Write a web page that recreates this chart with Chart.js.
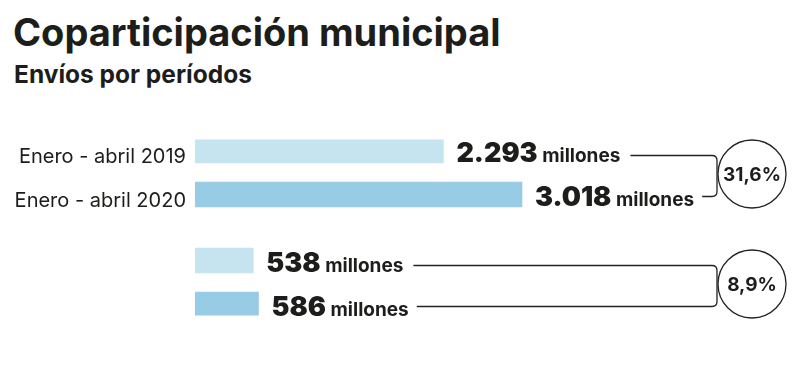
<!DOCTYPE html>
<html>
<head>
<meta charset="utf-8">
<script src="https://cdn.jsdelivr.net/npm/chart.js@4/dist/chart.umd.min.js"></script>
<style>
  html, body { margin: 0; padding: 0; background: #fff; }
  #wrap { position: relative; width: 793px; height: 366px; overflow: hidden; }
  h1, h2 { position: absolute; margin: 0; color: #1d1d1b; font-family: Inter, sans-serif; white-space: nowrap; line-height: 1; }
  h1 { left: 13px; top: 13px; font-size: 38px; font-weight: 700; }
  h2 { left: 14px; top: 62px; font-size: 24.5px; font-weight: 700; }
  canvas { position: absolute; left: 0; top: 0; }
</style>
</head>
<body>
<div id="wrap">
  <h1>Coparticipación municipal</h1>
  <h2>Envíos por períodos</h2>
  <canvas id="chart" width="793" height="366"></canvas>
</div>
<script>
// Data (millones de pesos)
const periods = ['Enero - abril 2019', 'Enero - abril 2020', 'Abril 2019', 'Abril 2020'];
const values = [2293, 3018, 538, 586];
const valueLabels = ['2.293', '3.018', '538', '586'];
const changes = ['31,6%', '8,9%'];

// Style
const colors = {
  text: '#1d1d1b',
  light: '#c6e3f0',
  dark: '#98cce4',
  line: '#222222'
};
const FONT = 'Inter, sans-serif';

// Build category slots: rows of a pair sit two slots apart, pairs three slots apart
const labels = [];
const data = [];
const barColors = [];
periods.forEach((p, i) => {
  if (i > 0) {
    const gap = i % 2 === 0 ? 2 : 1;
    for (let g = 0; g < gap; g++) { labels.push(''); data.push(null); barColors.push('transparent'); }
  }
  labels.push(p);
  data.push(values[i]);
  barColors.push(i % 2 === 0 ? colors.light : colors.dark);
});

// Value labels, brackets and percentage circles
const annotations = {
  id: 'annotations',
  afterDatasetsDraw(chart) {
    const { ctx } = chart;
    const meta = chart.getDatasetMeta(0);
    const bars = meta.data.filter((b, i) => data[i] !== null);
    const ends = [];

    ctx.save();
    ctx.fillStyle = colors.text;
    ctx.textBaseline = 'alphabetic';
    ctx.textAlign = 'left';
    bars.forEach((bar, i) => {
      const x = bar.x + 13;
      const y = bar.y + 11;
      ctx.font = `900 27px ${FONT}`;
      ctx.fillText(valueLabels[i], x, y);
      const w1 = ctx.measureText(valueLabels[i]).width;
      ctx.font = `700 19px ${FONT}`;
      ctx.fillText(' millones', x + w1, y);
      const w2 = ctx.measureText(' millones').width;
      ends.push(x + w1 + w2);
    });

    const cx = 752;
    const r = 34;
    const vx = cx - r - 1;
    const cr = 5;
    ctx.strokeStyle = colors.line;
    ctx.lineWidth = 1.3;
    changes.forEach((label, g) => {
      const top = bars[g * 2];
      const bottom = bars[g * 2 + 1];
      const y1 = top.y + 5;
      const y2 = bottom.y + 2;
      ctx.beginPath();
      ctx.moveTo(ends[g * 2] + 10, y1);
      ctx.lineTo(vx - cr, y1);
      ctx.quadraticCurveTo(vx, y1, vx, y1 + cr);
      ctx.lineTo(vx, y2 - cr);
      ctx.quadraticCurveTo(vx, y2, vx - cr, y2);
      ctx.lineTo(ends[g * 2 + 1] + 8, y2);
      ctx.stroke();

      const cy = (y1 + y2) / 2 - 2;
      ctx.beginPath();
      ctx.arc(cx, cy, r, 0, Math.PI * 2);
      ctx.stroke();

      ctx.font = `700 19px ${FONT}`;
      ctx.textAlign = 'center';
      ctx.textBaseline = 'middle';
      ctx.fillText(label, cx, cy + 1);
      ctx.textAlign = 'left';
      ctx.textBaseline = 'alphabetic';
    });
    ctx.restore();
  }
};

new Chart(document.getElementById('chart'), {
  type: 'bar',
  data: {
    labels,
    datasets: [{
      data,
      backgroundColor: barColors,
      borderWidth: 0,
      barThickness: 25
    }]
  },
  options: {
    indexAxis: 'y',
    responsive: false,
    animation: false,
    layout: { padding: { top: 139.5, bottom: 50.5, left: 0, right: 13 } },
    scales: {
      x: {
        min: 0,
        max: 5400,
        display: false
      },
      y: {
        grid: { display: false, drawTicks: false },
        border: { display: false },
        afterFit: (scale) => { scale.width = 195; },
        ticks: {
          padding: 9,
          labelOffset: 6,
          color: colors.text,
          font: { family: FONT, size: 20 }
        }
      }
    },
    plugins: {
      legend: { display: false },
      tooltip: { enabled: false }
    }
  },
  plugins: [annotations]
});
</script>
</body>
</html>
